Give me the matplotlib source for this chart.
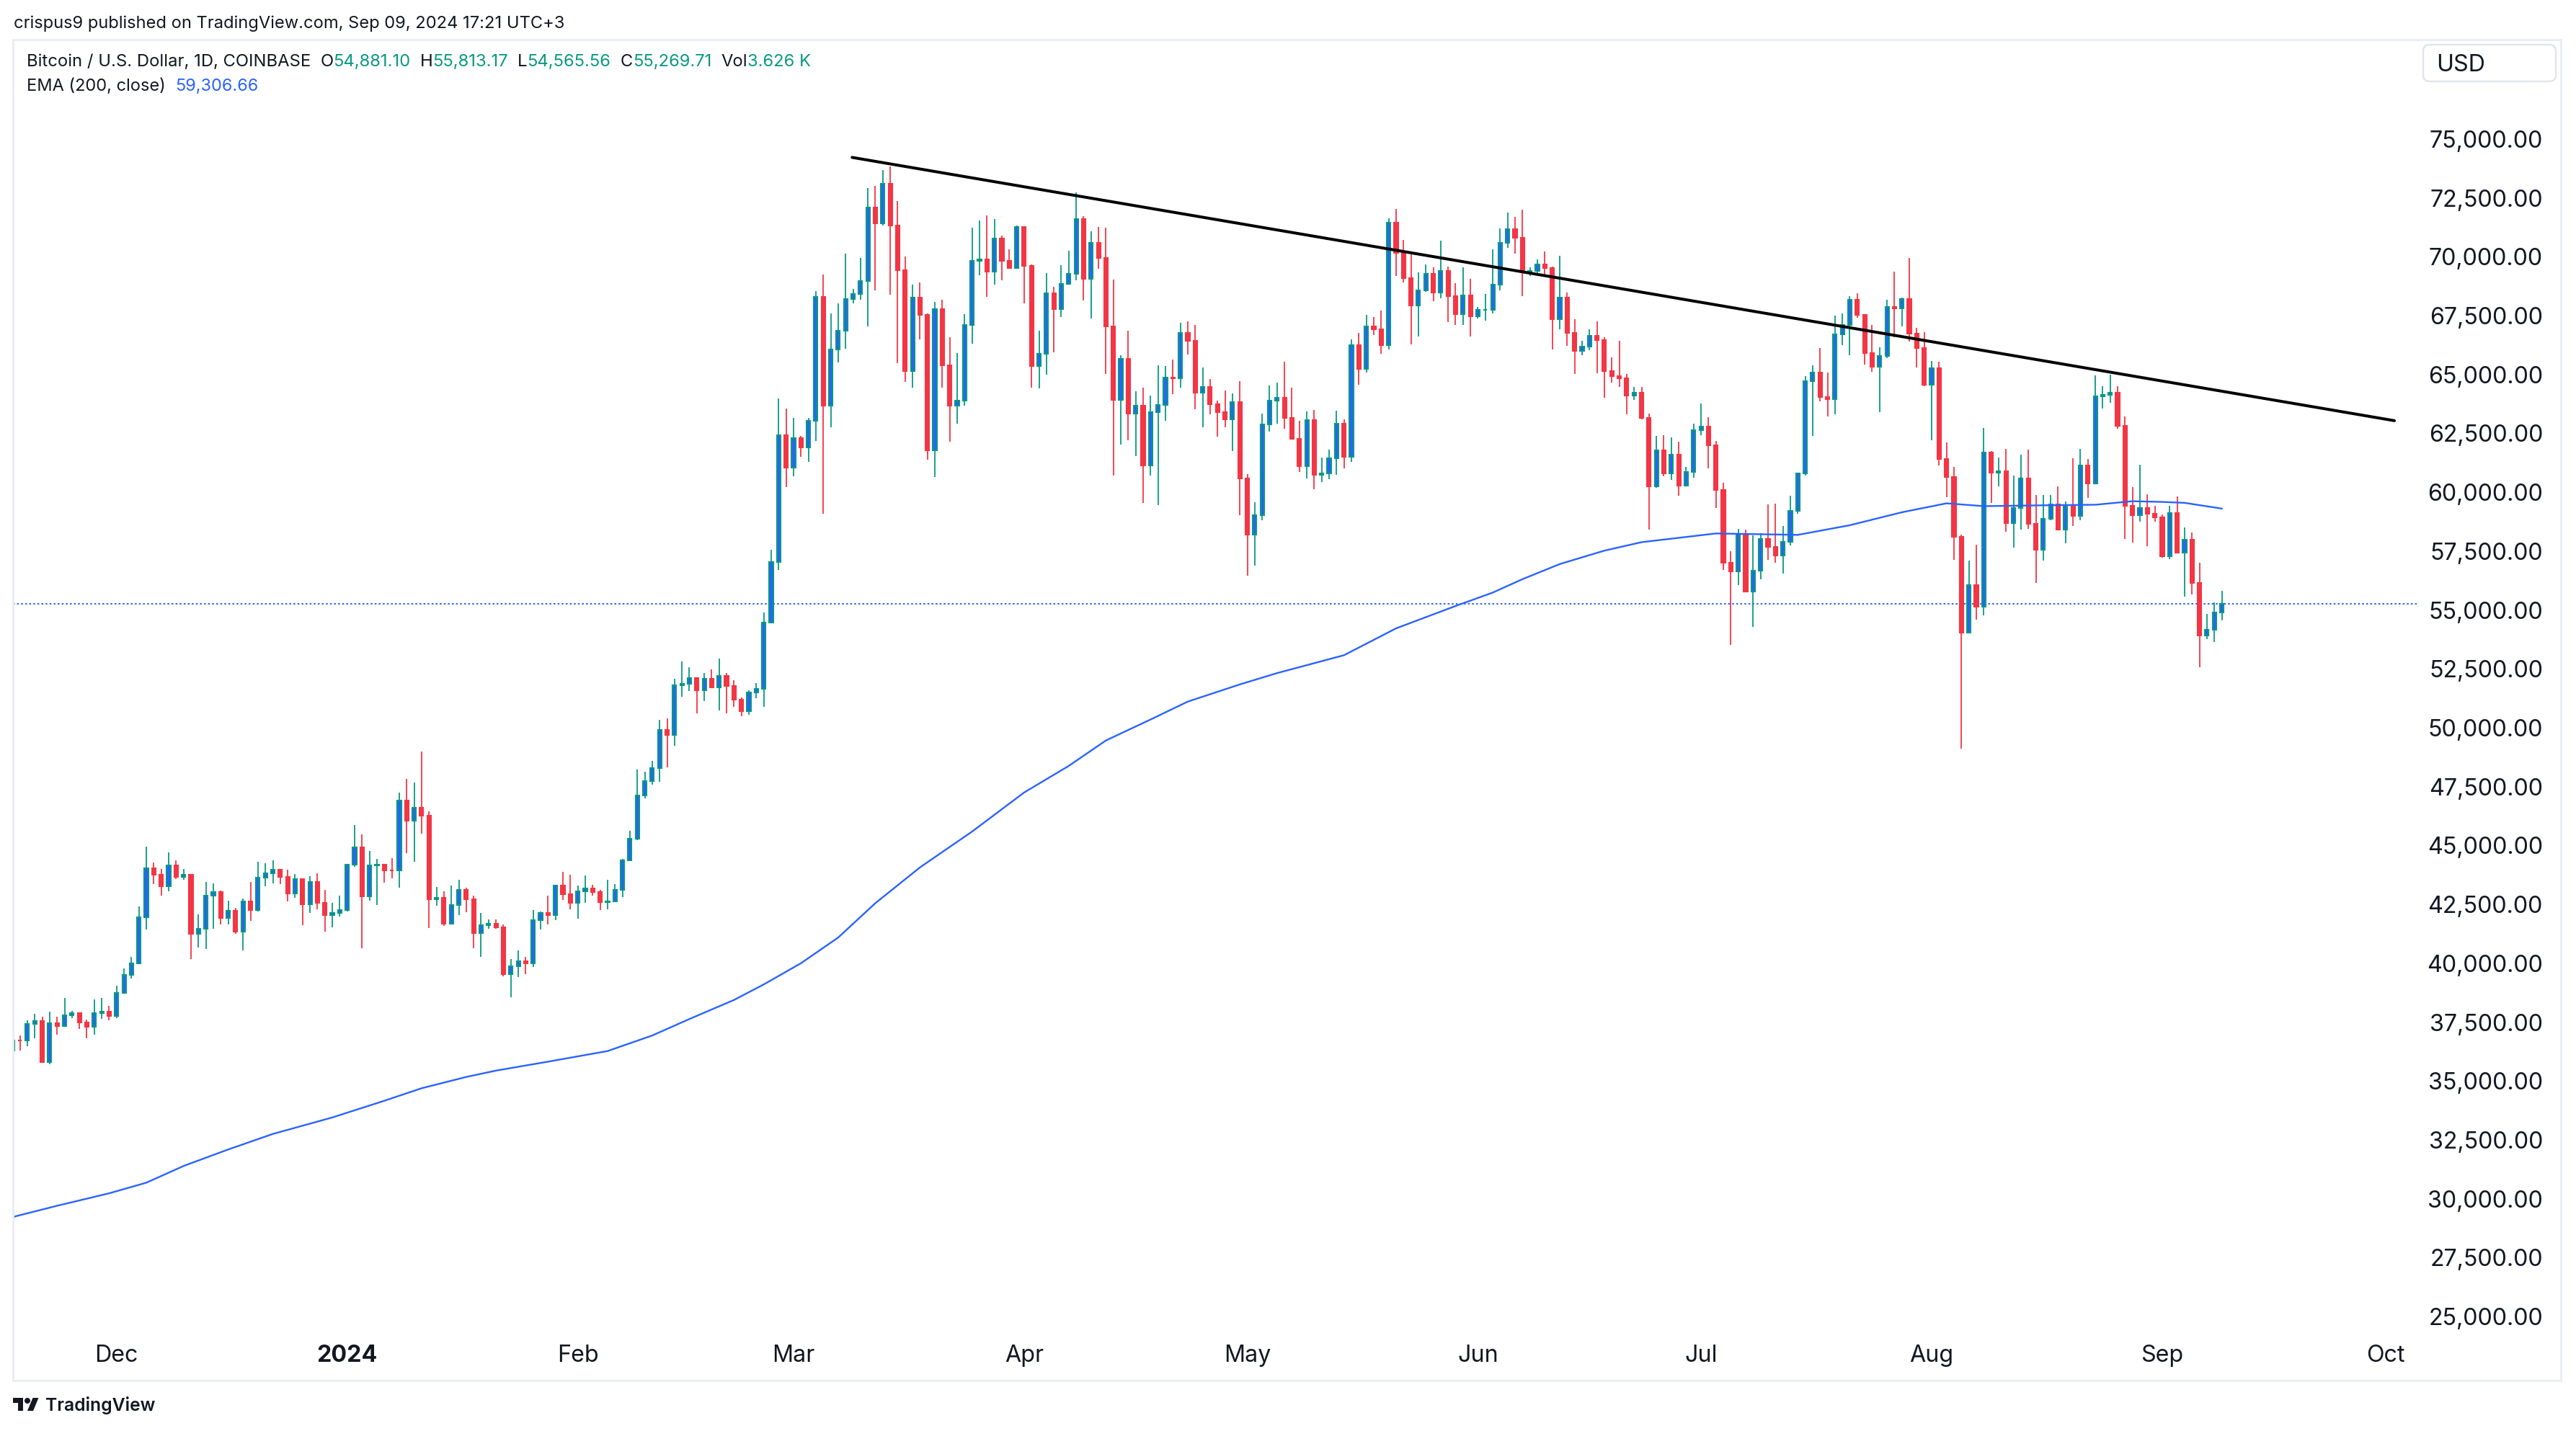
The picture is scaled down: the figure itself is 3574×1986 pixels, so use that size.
import numpy as np
import pandas as pd
import matplotlib
matplotlib.use('Agg')
import matplotlib.pyplot as plt
import matplotlib.dates as mdates
import matplotlib.transforms as mtransforms
from matplotlib.patches import Rectangle, FancyBboxPatch, Polygon, Circle

plt.rcParams['font.family'] = ['Inter', 'DejaVu Sans']

W, H, DPI = 3574, 1986, 200

# daily candles, Coinbase BTC/USD, 2023-11-17 .. 2024-09-09 (open = previous close)
dates = pd.date_range('2023-11-17', '2024-09-09', freq='D')
first_open = 36280

closes = [
    # Nov
    36720, 36710, 37436, 37540, 35800, 37460, 37345, 37783, 37875, 37495, 37287, 37875, 37955, 37760,
    # Dec
    38729, 39490, 39998, 41960, 44037, 43749, 43253, 44165, 43668, 43760, 41245, 41476, 42861, 43010, 41914, 42237,
    41337, 42630, 42260, 43645, 43830, 43980, 43668, 42976, 43564, 42491, 43437, 42549, 42030, 42145, 42260,
    # Jan
    44187, 44914, 42826, 44165, 44180, 43945, 43930, 46911, 46057, 46600, 46253, 42722, 42780, 41683, 42468, 43103,
    42710, 41290, 41626, 41683, 41534, 39549, 39875, 40091, 39983, 41826, 42129, 42042, 43311, 42942, 42563,
    # Feb
    43062, 43181, 43018, 42584, 42617, 43105, 44362, 45273, 47138, 47733, 48297, 49902, 49685, 51799, 51853, 52102,
    51604, 52091, 51712, 52211, 51777, 51203, 50693, 51495, 51658, 54454, 57050, 62420, 61045,
    # Mar
    62310, 61903, 63026, 68300, 63687, 66054, 66858, 68201, 68421, 68972, 72087, 71427, 73100, 71317, 69423, 65151,
    68267, 67519, 61771, 67772, 65394, 63687, 63885, 67111, 69830, 69885, 69368, 70766, 69830, 69533, 71262,
    # Apr
    69610, 65371, 65889, 68454, 67772, 68840, 69280, 71592, 69060, 70579, 69963, 67056, 63907, 65669, 63334, 63687,
    61133, 63389, 63720, 64876, 64843, 66781, 66419, 64228, 64474, 63736, 63400, 63087, 63837, 60572,
    # May
    58191, 59040, 62886, 63892, 64004, 63143, 62271, 61109, 63065, 60739, 60795, 61432, 62908, 61500, 66262, 65234,
    67056, 66922, 66251, 71450, 70153, 69102, 67928, 68566, 69292, 68476, 69404, 68342, 67560, 68364, 67470,
    # Jun
    67750, 67760, 68812, 70578, 71160, 70801, 69326, 69404, 69684, 69516, 67336, 68253, 66754, 66016, 66184, 66631,
    66475, 65133, 64932, 64843, 64094, 64228, 63143, 60247, 61780, 60787, 61590, 60276, 60860, 62641,
    # Jul
    62801, 61999, 60101, 57020, 56626, 58232, 55794, 56670, 58013, 57692, 57313, 57896, 59210, 60787, 64729, 65079,
    64043, 63955, 66700, 67115, 68160, 67532, 65897, 65343, 65780, 67868, 67800, 68204, 66744, 66116, 64554,
    # Aug
    65270, 61400, 60641, 58115, 54026, 56059, 55144, 61692, 60838, 60888, 58703, 59343, 60584, 58672, 57554, 58875,
    59496, 58428, 59435, 59008, 61143, 60380, 64071, 64142, 64213, 62810, 59414, 59028, 59343, 59089, 58936,
    # Sep
    57279, 59130, 57432, 57981, 56141, 53924, 54158, 54881, 55270,
]

highs = [
    36800, 36920, 37587, 37840, 37726, 37933, 37726, 38510, 37960, 37880, 37610, 38475, 38530, 38190,
    39053, 39767, 40264, 42400, 44961, 44268, 44014, 44707, 44360, 44014, 43800, 42087, 43437, 43403, 43070, 42653,
    42340, 42745, 43437, 44303, 44245, 44384, 43980, 43957, 43784, 43600, 43691, 43807, 43130, 42572, 42860,
    44200, 45861, 45480, 44765, 44418, 44226, 44476, 47250, 47823, 47684, 49000, 46461, 43241, 43068, 43299, 43530,
    43207, 42884, 42145, 41857, 41857, 41650, 40167, 40558, 40276, 42259, 42205, 42855, 43320, 43885, 43755,
    43289, 43722, 43343, 43105, 43538, 43365, 44427, 45620, 48222, 48145, 48580, 50335, 50390, 52070, 52828, 52557,
    52145, 52340, 52470, 52937, 52340, 52015, 51290, 51600, 51907, 54900, 57550, 63973, 63555,
    63147, 62377, 63147, 68542, 69258, 67596, 68014, 70139, 68641, 69941, 72913, 73023, 73684, 73827, 72363, 69996,
    68807, 68895, 67600, 68069, 68179, 66582, 65922, 67552, 71229, 71537, 71757, 71592, 70898, 70304, 71339,
    71262, 69665, 66858, 69313, 68730, 69632, 70271, 72748, 71724, 71097, 71262, 71229, 69038, 65812, 66858, 64293,
    64436, 64105, 65405, 65372, 65647, 67189, 67246, 67090, 65290, 64821, 63892, 64317, 64205, 64731,
    60762, 59588, 63345, 64541, 64653, 65547, 64429, 63031, 63423, 63479, 61466, 61802, 63457, 63110, 66497, 66777,
    67537, 67448, 67730, 71618, 72032, 70712, 70108, 69326, 69661, 69549, 70690, 69572, 68879, 69549, 69069,
    67872, 68420, 70332, 71200, 71864, 71696, 72009, 69549, 69885, 70220, 69572, 70041, 68487, 67336, 66442, 66922,
    67258, 66576, 65715, 66442, 65010, 64485, 64463, 63342, 62393, 62437, 62320, 62145, 61079, 62904,
    63780, 63196, 62174, 60393, 57502, 58451, 58422, 58159, 58276, 59473, 59517, 58568, 59867, 60800, 64919, 65386,
    66116, 65094, 67503, 67605, 68335, 68452, 67576, 67109, 66145, 68189, 69372, 68262, 69956, 66992, 66802,
    65561, 65532, 62130, 61079, 58200, 57096, 57757, 62739, 61753, 61478, 61854, 60716, 61600, 61824, 59872, 59872,
    59872, 60258, 59617, 61448, 61854, 61427, 64955, 64498, 65006, 64498, 63227, 60228, 61173, 59923, 59435,
    59058, 59414, 59821, 58520, 58296, 57005, 54839, 55317, 55813,
]

lows = [
    36250, 36280, 36480, 36800, 35790, 35700, 36975, 37300, 37670, 37207, 36800, 36950, 37645, 37587,
    37660, 38700, 39340, 39990, 41418, 43357, 42860, 43068, 43587, 43553, 40183, 40668, 40610, 41453, 41653, 41653,
    41245, 40552, 41800, 42203, 43264, 43403, 43357, 42630, 42768, 41626, 42134, 42283, 41337, 41534, 41995,
    42203, 44100, 40645, 42653, 42480, 43414, 43611, 43207, 44677, 44300, 45515, 41480, 42434, 41600, 41650, 42030,
    42168, 40633, 40264, 41453, 41450, 39430, 38552, 39420, 39549, 39853, 41425, 41642, 41826, 42693, 42292,
    41880, 42563, 42877, 42259, 42292, 42590, 42800, 44340, 45240, 47000, 47570, 47712, 48330, 49230, 51310, 51550,
    50600, 51127, 51690, 50747, 50600, 50877, 50498, 50552, 51257, 50877, 54450, 56700, 60230,
    60670, 61496, 61297, 62178, 59096, 62751, 65515, 66109, 68014, 68179, 67056, 68564, 71317, 68399, 65482, 64678,
    64436, 66494, 61386, 60637, 64436, 62146, 62916, 63687, 66307, 69225, 68311, 68806, 69005, 69500, 69500,
    68014, 64436, 64414, 64986, 65944, 67430, 68807, 69005, 68157, 67387, 69478, 65019, 60714, 62035, 62212, 61540,
    59536, 60714, 59448, 63026, 64160, 64436, 65860, 63534, 62752, 63311, 62361, 62752, 61746, 59029,
    56469, 56882, 58817, 62562, 62897, 62696, 62249, 60851, 60594, 60125, 60438, 60550, 60739, 61019, 61298, 64574,
    65100, 66665, 65883, 66050, 69181, 68924, 66274, 66609, 68510, 68119, 68230, 67224, 67112, 67112, 66609,
    67392, 67280, 67593, 68588, 70387, 70131, 68342, 69181, 69181, 69181, 66050, 66911, 66218, 65010, 65804, 66028,
    65044, 64015, 64653, 64485, 63311, 63926, 63100, 58407, 60203, 60670, 60539, 59867, 60276, 60612,
    62437, 61006, 59327, 56699, 53517, 56043, 55750, 54290, 56291, 57137, 57020, 56553, 57750, 59100, 60700, 62393,
    63853, 63225, 63313, 66262, 65824, 67400, 65430, 65124, 63415, 65700, 66597, 67036, 66408, 65284, 64510,
    62218, 61152, 59794, 57137, 49100, 54006, 54585, 54768, 59546, 60248, 58327, 57655, 58428, 58449, 56140, 57106,
    58804, 58400, 57838, 58571, 58804, 59750, 60350, 63562, 63786, 62700, 58022, 57869, 58754, 57716, 58754,
    57208, 57147, 57400, 55581, 55652, 52572, 53751, 53639, 54566,
]

# EMA(200)
ema_dates = ['2023-11-17', '2023-11-23', '2023-11-30', '2023-12-05', '2023-12-10', '2023-12-16', '2023-12-22',
             '2023-12-30', '2024-01-06', '2024-01-11', '2024-01-17', '2024-01-21', '2024-01-28', '2024-02-05',
             '2024-02-11', '2024-02-16', '2024-02-22', '2024-02-26', '2024-03-02', '2024-03-07', '2024-03-12',
             '2024-03-18', '2024-03-25', '2024-04-01', '2024-04-07', '2024-04-12', '2024-04-18', '2024-04-23',
             '2024-04-30', '2024-05-05', '2024-05-14', '2024-05-21', '2024-05-29', '2024-06-03', '2024-06-07',
             '2024-06-12', '2024-06-18', '2024-06-23', '2024-07-03', '2024-07-14', '2024-07-21', '2024-07-28',
             '2024-08-03', '2024-08-08', '2024-08-17', '2024-08-23', '2024-08-28', '2024-09-01', '2024-09-04',
             '2024-09-09']
ema_values = [29220, 29700, 30230, 30680, 31390, 32090, 32750,
              33450, 34160, 34690, 35170, 35440, 35820, 36270,
              36930, 37630, 38440, 39100, 40000, 41090, 42550,
              44070, 45590, 47250, 48380, 49460, 50350, 51110,
              51840, 52320, 53080, 54220, 55170, 55740, 56310,
              56950, 57520, 57880, 58250, 58190, 58600, 59150,
              59530, 59410, 59450, 59470, 59620, 59590, 59550,
              59307]

last_price = 55269.71
trend_dates = ['2024-03-08 21:00', '2024-10-02 05:00']
trend_values = [74220, 63040]

month_ticks = ['2023-12-01', '2024-01-01', '2024-02-01', '2024-03-01', '2024-04-01', '2024-05-01',
               '2024-06-01', '2024-07-01', '2024-08-01', '2024-09-01', '2024-10-01']
month_labels = ['Dec', '2024', 'Feb', 'Mar', 'Apr', 'May', 'Jun', 'Jul', 'Aug', 'Sep', 'Oct']
price_ticks = list(range(25000, 75001, 2500))

GREEN = '#089981'
RED = '#F23645'
BLUE = '#2962FF'
TEXT = '#131722'
FRAME = '#E9ECF3'

assert len(closes) == len(dates) == len(highs) == len(lows)

fig = plt.figure(figsize=(W / DPI, H / DPI), dpi=DPI)
renderer = fig.canvas.get_renderer()
ident = mtransforms.IdentityTransform()


def px(x, y):
    # pixel position measured from the top-left corner -> display coords
    return (x, H - y)


# plot pane
ax = fig.add_axes([18 / W, 1 - 1845 / H, (3355 - 18) / W, (1845 - 57) / H])
ax.set_axis_off()
dec1 = mdates.date2num(pd.Timestamp('2023-12-01'))
ax.set_xlim(dec1 - 13.93, dec1 + 309.4)
ax.set_ylim(24450, 79160)

x = mdates.date2num(dates)
c = np.array(closes, dtype=float)
o = np.array([first_open] + closes[:-1], dtype=float)
h = np.array(highs, dtype=float)
l = np.array(lows, dtype=float)
up = c >= o

ax.vlines(x[up], l[up], h[up], color=GREEN, lw=0.65, zorder=2)
ax.vlines(x[~up], l[~up], h[~up], color=RED, lw=0.65, zorder=2)
ax.bar(x[up], c[up] - o[up], bottom=o[up], width=0.5, color=BLUE, edgecolor=GREEN, linewidth=0.75, zorder=3)
ax.bar(x[~up], c[~up] - o[~up], bottom=o[~up], width=0.5, color=RED, edgecolor=RED, linewidth=0.75, zorder=3)

ax.plot(mdates.date2num(pd.to_datetime(ema_dates)), ema_values, color=BLUE, lw=0.85, zorder=4,
        solid_joinstyle='round')
ax.axhline(last_price, color=BLUE, lw=0.7, ls=(0, (1.3, 1.6)), zorder=1)
ax.plot(mdates.date2num(pd.to_datetime(trend_dates)), trend_values, color='black', lw=1.45,
        solid_capstyle='round', zorder=5)

# price scale
ytrans = mtransforms.blended_transform_factory(fig.transFigure, ax.transData)
ytrans = ytrans + mtransforms.ScaledTranslation(0, -12 / DPI, fig.dpi_scale_trans)
for p in price_ticks:
    ax.text(3528 / W, p, f'{p:,.2f}', transform=ytrans, ha='right', va='baseline',
            fontsize=11.6, color=TEXT, clip_on=False)

# time scale
xtrans = mtransforms.blended_transform_factory(ax.transData, fig.transFigure)
for d, lab in zip(month_ticks, month_labels):
    ax.text(mdates.date2num(pd.Timestamp(d)), 1 - 1890 / H, lab, transform=xtrans, ha='center',
            va='baseline', fontsize=11.6, color=TEXT, clip_on=False,
            fontweight='bold' if lab == '2024' else 'normal')

# frame
fig.patches.append(Rectangle(px(18, 1916), 3553 - 18, 1916 - 55, transform=ident, fill=False,
                             edgecolor=FRAME, lw=1.0, zorder=1))

# USD box
fig.patches.append(FancyBboxPatch(px(3362, 113), 184, 51, boxstyle='round,pad=0,rounding_size=9',
                                  transform=ident, facecolor='white', edgecolor='#E0E3EB', lw=0.8, zorder=5))
fig.text(3380 / W, 1 - 99 / H, 'USD', fontsize=11.6, color=TEXT, va='baseline', zorder=6)


def fit_segments(x0, y_base, segs, width_px, gap=0.55):
    """place coloured text pieces on one line and scale them to the target width"""
    size = 10.0
    texts = []
    for s, col, g in segs:
        texts.append((fig.text(0, 0, s, fontsize=size, color=col, va='baseline'), g))
    total = sum(t.get_window_extent(renderer).width for t, _ in texts)
    total += sum(g * gap * size * DPI / 72 for _, g in texts)
    size = size * width_px / total
    xx = x0
    for t, g in texts:
        t.set_fontsize(size)
        t.set_position((xx / W, 1 - y_base / H))
        xx += t.get_window_extent(renderer).width + g * gap * size * DPI / 72
    return texts


fit_segments(19, 39.5, [('crispus9 published on TradingView.com, Sep 09, 2024 17:21 UTC+3', TEXT, 0)], 765)
fit_segments(37, 92.5, [('Bitcoin / U.S. Dollar, 1D, COINBASE', TEXT, 1),
                        ('O', TEXT, 0), ('54,881.10', GREEN, 1),
                        ('H', TEXT, 0), ('55,813.17', GREEN, 1),
                        ('L', TEXT, 0), ('54,565.56', GREEN, 1),
                        ('C', TEXT, 0), ('55,269.71', GREEN, 1),
                        ('Vol', TEXT, 0), ('3.626 K', GREEN, 0)], 1088)
fit_segments(37, 126, [('EMA (200, close)', TEXT, 1), ('59,306.66', BLUE, 0)], 321)

# TradingView logo
lx, ly = 18, 1936
stem = [(14, 22), (7, 22), (7, 11), (0, 11), (0, 4), (14, 4)]
slash = [(28, 22), (20, 22), (27.5, 4), (35.5, 4)]
fig.patches.append(Polygon([px(lx + a, ly + b) for a, b in stem], closed=True, transform=ident,
                           facecolor=TEXT, edgecolor='none'))
fig.patches.append(Polygon([px(lx + a, ly + b) for a, b in slash], closed=True, transform=ident,
                           facecolor=TEXT, edgecolor='none'))
fig.patches.append(Circle(px(lx + 20, ly + 8), 4, transform=ident, facecolor=TEXT, edgecolor='none'))
logo_txt = fig.text(63 / W, 1 - 1958 / H, 'TradingView', fontsize=10, color=TEXT, va='baseline',
                    fontweight='semibold')
logo_txt.set_fontsize(10 * 153 / logo_txt.get_window_extent(renderer).width)

fig.savefig('out.png', dpi=DPI, facecolor='white')
